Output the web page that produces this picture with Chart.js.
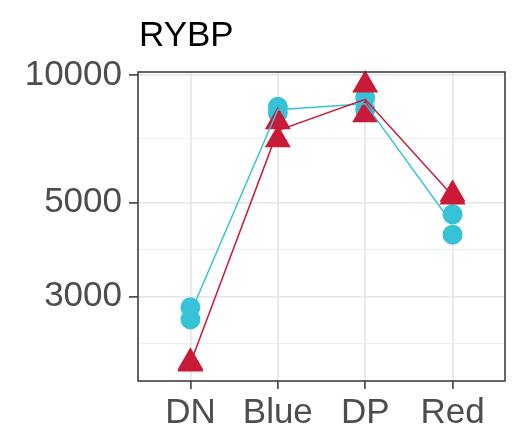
<!DOCTYPE html>
<html>
<head>
<meta charset="utf-8">
<script src="https://cdn.jsdelivr.net/npm/chart.js@4"></script>
<style>
  body { margin: 0; background: #fff; }
  canvas { display: block; }
</style>
</head>
<body>
<canvas id="chart" width="525" height="437"></canvas>
<script>
// categories on the x axis
const categories = ['DN', 'Blue', 'DP', 'Red'];

// cyan circles, two replicates per category
const cyanRep1 = [2830, 8410, 8830, 4690];
const cyanRep2 = [2650, 8140, 8280, 4200];

// red triangles, two replicates per category
const redRep1 = [2080, 7750, 9470, 5230];
const redRep2 = [2100, 7030, 8050, 5150];

// y axis (log) breaks
const yMajorTicks = [3000, 5000, 10000];
const yMinorTicks = [2323, 3873, 7071];
const yMin = 1897;
const yMax = 10160;

const CYAN = '#36c3d8';
const RED = '#c91a38';
const FONT = '"Liberation Sans", Arial, sans-serif';

const toPoints = (a, b) =>
  categories.flatMap((c, i) => [{ x: i, y: a[i] }, { x: i, y: b[i] }]);
const toMeans = (a, b) => categories.map((c, i) => ({ x: i, y: (a[i] + b[i]) / 2 }));

// panel border + title, drawn like a ggplot panel
const panelPlugin = {
  id: 'panel',
  afterDatasetsDraw(chart) {
    const { ctx, chartArea: a } = chart;
    ctx.save();
    ctx.strokeStyle = '#333333';
    ctx.lineWidth = 1.5;
    ctx.strokeRect(a.left, a.top, a.right - a.left, a.bottom - a.top);
    ctx.restore();
  },
  afterDraw(chart) {
    const { ctx, chartArea: a } = chart;
    ctx.save();
    ctx.fillStyle = '#000';
    ctx.font = '35px ' + FONT;
    ctx.textAlign = 'left';
    ctx.textBaseline = 'alphabetic';
    ctx.fillText('RYBP', a.left + 1, 46);
    ctx.restore();
  },
};

const isMajor = (v) => yMajorTicks.includes(v);

new Chart(document.getElementById('chart'), {
  type: 'scatter',
  data: {
    datasets: [
      {
        type: 'line',
        data: toMeans(redRep1, redRep2),
        borderColor: RED,
        borderWidth: 1.5,
        pointRadius: 0,
        fill: false,
        clip: false,
        order: 0,
      },
      {
        type: 'line',
        data: toMeans(cyanRep1, cyanRep2),
        borderColor: CYAN,
        borderWidth: 1.5,
        pointRadius: 0,
        fill: false,
        clip: false,
        order: 1,
      },
      {
        data: toPoints(redRep1, redRep2),
        pointStyle: 'triangle',
        pointRadius: 15,
        backgroundColor: RED,
        borderColor: RED,
        borderWidth: 0,
        clip: false,
        order: 2,
      },
      {
        data: toPoints(cyanRep1, cyanRep2),
        pointStyle: 'circle',
        pointRadius: 10,
        backgroundColor: CYAN,
        borderColor: CYAN,
        borderWidth: 0,
        clip: false,
        order: 3,
      },
    ],
  },
  plugins: [panelPlugin],
  options: {
    responsive: false,
    animation: false,
    devicePixelRatio: 1,
    layout: { padding: { top: 72, right: 20, left: 0, bottom: 0 } },
    plugins: {
      legend: { display: false },
      tooltip: { enabled: false },
      title: { display: false },
    },
    scales: {
      x: {
        type: 'linear',
        min: -0.6,
        max: 3.6,
        afterBuildTicks: (scale) => {
          scale.ticks = categories.map((c, i) => ({ value: i }));
        },
        afterFit: (scale) => {
          scale.height = 56;
        },
        border: { display: false },
        grid: {
          color: '#e8e8e8',
          lineWidth: 1.8,
          tickColor: '#333333',
          tickLength: 8,
          tickWidth: 1.5,
        },
        ticks: {
          autoSkip: false,
          maxRotation: 0,
          padding: 3,
          color: '#4d4d4d',
          font: { family: FONT, size: 35 },
          callback: (v) => categories[v],
        },
      },
      y: {
        type: 'logarithmic',
        min: yMin,
        max: yMax,
        afterBuildTicks: (scale) => {
          scale.ticks = [...yMinorTicks, ...yMajorTicks]
            .sort((a, b) => a - b)
            .map((v) => ({ value: v }));
        },
        afterFit: (scale) => {
          scale.width = 138;
        },
        border: { display: false },
        grid: {
          color: (ctx) => (isMajor(ctx.tick.value) ? '#e8e8e8' : '#efefef'),
          lineWidth: (ctx) => (isMajor(ctx.tick.value) ? 1.8 : 1.1),
          tickColor: (ctx) => (isMajor(ctx.tick.value) ? '#333333' : 'rgba(0,0,0,0)'),
          tickLength: 9,
          tickWidth: 1.5,
        },
        ticks: {
          autoSkip: false,
          padding: 7,
          color: '#4d4d4d',
          font: { family: FONT, size: 35 },
          callback: (v) => (isMajor(v) ? String(v) : ''),
        },
      },
    },
  },
});
</script>
</body>
</html>
